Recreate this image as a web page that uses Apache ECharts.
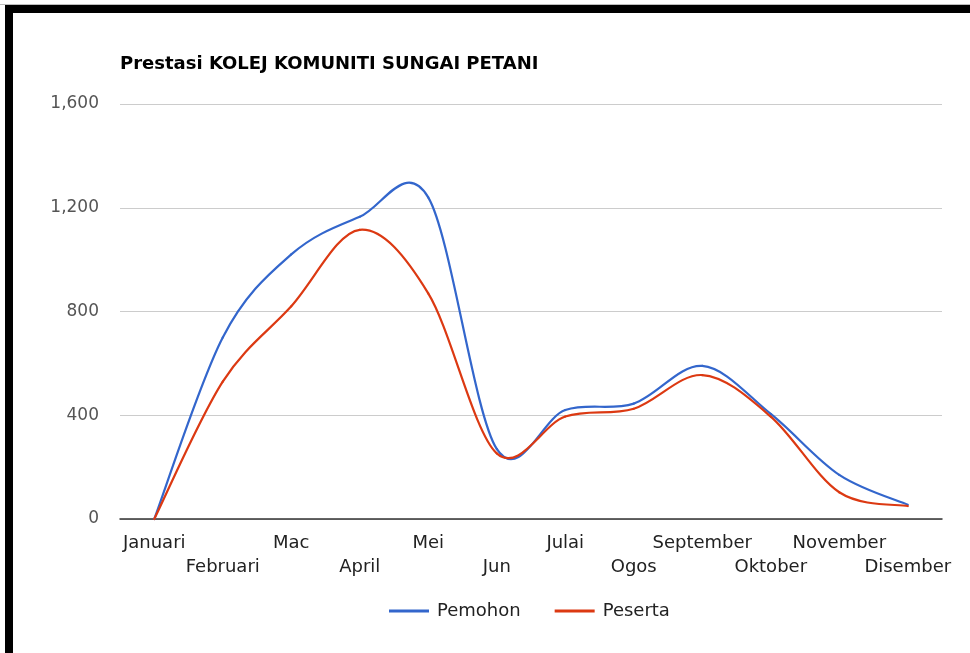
<!DOCTYPE html>
<html>
<head>
<meta charset="utf-8">
<title>Prestasi KOLEJ KOMUNITI SUNGAI PETANI</title>
<script src="https://cdn.jsdelivr.net/npm/echarts@6/dist/echarts.min.js"></script>
<style>
    html, body { margin: 0; padding: 0; background: #fff; }
    #mainChart { position: absolute; left: 0; top: 0; width: 970px; height: 653px; }
    /* bingkai hitam atas + kiri seperti tangkapan skrin asal */
    .frame-top-line { position: absolute; left: 0; top: 4px; width: 970px; height: 1px; background: #bdbdbd; }
    .frame { position: absolute; left: 5px; top: 5px; width: 965px; height: 648px;
             border-top: 8px solid #000; border-left: 8px solid #000; box-sizing: border-box; pointer-events: none; }
</style>
</head>
<body>
<div id="mainChart"></div>
<div class="frame-top-line"></div>
<div class="frame"></div>
<script>
"use strict";

// ---- data (dibaca dari carta asal) ----
var months = ["Januari", "Februari", "Mac", "April", "Mei", "Jun",
              "Julai", "Ogos", "September", "Oktober", "November", "Disember"];
var pemohon = [0, 700, 1020, 1165, 1240, 270, 420, 445, 590, 405, 170, 55];
var peserta = [0, 530, 820, 1115, 870, 253, 395, 425, 555, 395, 103, 50];
var yTicks = [0, 400, 800, 1200, 1600];

var FONT = "DejaVu Sans";

var chart = echarts.init(document.getElementById("mainChart"), null, { renderer: "canvas" });

function fmtThousands(v) {
    return String(v).replace(/\B(?=(\d{3})+(?!\d))/g, ",");
}

/**
 * Lengkung jenis "function" (Catmull-Rom) seperti carta asal.
 * Setiap item melukis segmen i -> i+1 sebagai bezier; titik diambil melalui api.coord.
 */
function curveRenderer(values, color) {
    return function (params, api) {
        var i = params.dataIndex;
        if (i >= values.length - 1) return null;
        function pt(k) {
            k = Math.max(0, Math.min(values.length - 1, k));
            return api.coord([k, values[k]]);
        }
        var p0 = pt(i - 1), p1 = pt(i), p2 = pt(i + 1), p3 = pt(i + 2);
        return {
            type: "bezierCurve",
            shape: {
                x1: p1[0], y1: p1[1],
                cpx1: p1[0] + (p2[0] - p0[0]) / 6, cpy1: p1[1] + (p2[1] - p0[1]) / 6,
                cpx2: p2[0] - (p3[0] - p1[0]) / 6, cpy2: p2[1] - (p3[1] - p1[1]) / 6,
                x2: p2[0], y2: p2[1],
            },
            style: { stroke: color, lineWidth: 2.2, fill: null, lineCap: "round" },
            silent: true,
        };
    };
}

function curveSeries(name, values, color) {
    return {
        name: name, type: "custom", coordinateSystem: "cartesian2d", clip: false,
        data: values.map(function (v, i) { return [i, v]; }),
        encode: { x: 0, y: 1 },
        itemStyle: { color: color },
        renderItem: curveRenderer(values, color),
    };
}

chart.setOption({
    backgroundColor: "transparent",
    animation: false,
    title: {
        text: "Prestasi KOLEJ KOMUNITI SUNGAI PETANI",
        left: 115, top: 50,
        textStyle: { fontFamily: FONT, fontSize: 18, fontWeight: "bold", color: "#000" },
    },
    legend: {
        left: 384, top: 597,
        itemWidth: 40, itemHeight: 3, itemGap: 34,
        textStyle: { fontFamily: FONT, fontSize: 18, color: "#222", padding: [0, 0, 0, 3] },
        data: [
            { name: "Pemohon", icon: "rect", itemStyle: { color: "#3366cc" } },
            { name: "Peserta", icon: "rect", itemStyle: { color: "#dc3912" } },
        ],
    },
    grid: { left: 120, right: 28, top: 104, bottom: 134, containLabel: false },
    xAxis: {
        type: "category",
        data: months,
        boundaryGap: true,
        axisTick: { show: false },
        axisLine: { lineStyle: { color: "#333", width: 1.5 } },
        axisLabel: {
            interval: 0, margin: 12,
            fontFamily: FONT, fontSize: 18, color: "#222", lineHeight: 24,
            formatter: function (v, i) { return i % 2 ? "\n" + v : v; },
        },
    },
    yAxis: {
        type: "value",
        min: yTicks[0], max: yTicks[yTicks.length - 1], interval: 400,
        axisLine: { show: false },
        axisTick: { show: false },
        splitLine: { lineStyle: { color: "#cccccc", width: 1 } },
        axisLabel: {
            margin: 21, fontFamily: FONT, fontSize: 17, color: "#555",
            formatter: fmtThousands,
        },
    },
    series: [
        curveSeries("Pemohon", pemohon, "#3366cc"),
        curveSeries("Peserta", peserta, "#dc3912"),
    ],
});
</script>
</body>
</html>
